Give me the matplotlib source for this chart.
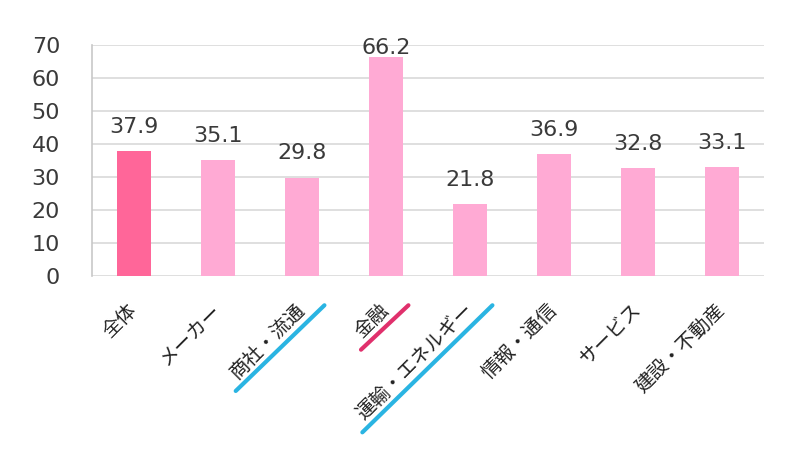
import matplotlib
matplotlib.use("Agg")
import matplotlib.pyplot as plt
from matplotlib.lines import Line2D
from matplotlib.transforms import IdentityTransform

plt.rcParams['font.family'] = ['DejaVu Sans', 'Noto Sans CJK JP']

categories = ['全体', 'メーカー', '商社・流通', '金融', '運輸・エネルギー', '情報・通信', 'サービス', '建設・不動産']
values = [37.9, 35.1, 29.8, 66.2, 21.8, 36.9, 32.8, 33.1]
y_ticks = [0, 10, 20, 30, 40, 50, 60, 70]
underlined = {'商社・流通': '#2ab4e2', '金融': '#e0306c', '運輸・エネルギー': '#2ab4e2'}

colors = ['#ff6699'] + ['#ffaad4'] * (len(values) - 1)

fig = plt.figure(figsize=(8, 4.49), dpi=100)
ax = fig.add_axes([0.115, 0.385, 0.84, 0.515])

x = list(range(len(categories)))
ax.bar(x, values, width=0.4, color=colors, zorder=3)
ax.set_xlim(-0.5, len(categories) - 0.5)
ax.set_ylim(0, 70)
ax.set_yticks(y_ticks)
ax.yaxis.grid(True, color='#d9d9d9', linewidth=1.2, zorder=0)
ax.set_axisbelow(True)
for s in ['top', 'right', 'bottom']:
    ax.spines[s].set_visible(False)
ax.spines['left'].set_color('#c8c8c8')
ax.spines['left'].set_linewidth(1.2)
ax.tick_params(axis='y', length=0, labelsize=16, labelcolor='#3a3a3a', pad=23)
ax.tick_params(axis='x', length=0, pad=22)
ax.set_xticks(x)
ax.set_xticklabels(categories, rotation=45, ha='right', va='center',
                   rotation_mode='anchor', fontsize=14, color='#222222',
                   family=['Noto Sans CJK JP', 'DejaVu Sans'])

for xi, v in zip(x, values):
    ax.text(xi, min(v + 4.3, 66.1), f'{v:.1f}', ha='center', va='bottom',
            fontsize=16, color='#3a3a3a', clip_on=False)

fig.canvas.draw()
for lab in ax.get_xticklabels():
    t = lab.get_text()
    if t in underlined:
        bb = lab.get_window_extent()
        xs = [bb.x0 + 10, bb.x1 + 15]
        ys = [bb.y0 - 8, bb.y1 - 6]
        fig.add_artist(Line2D(xs, ys, transform=IdentityTransform(),
                              color=underlined[t], linewidth=3, solid_capstyle='round'))

fig.savefig('out.png', dpi=100)
